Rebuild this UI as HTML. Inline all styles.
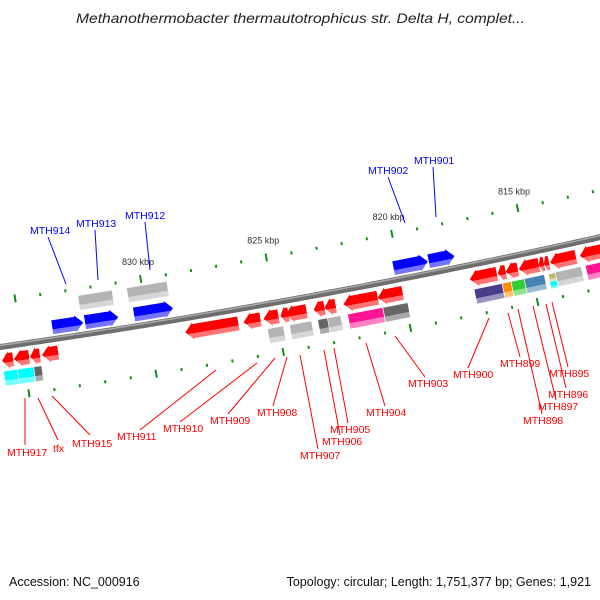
<!DOCTYPE html>
<html><head><meta charset="utf-8">
<style>
html,body{margin:0;padding:0;background:#fff;}
svg{display:block;font-family:"Liberation Sans","DejaVu Sans",sans-serif;}
</style></head>
<body>
<svg id="map" width="600" height="600" viewBox="0 0 600 600" xmlns="http://www.w3.org/2000/svg">
<defs id="defs"></defs>
<text x="76" y="23" font-size="14" font-style="italic" fill="#222" textLength="449" lengthAdjust="spacingAndGlyphs">Methanothermobacter thermautotrophicus str. Delta H, complet...</text>
<text x="9" y="586" font-size="12.5" fill="#111">Accession: NC_000916</text>
<text x="591" y="586" text-anchor="end" font-size="12.5" fill="#111">Topology: circular; Length: 1,751,377 bp; Genes: 1,921</text>
<g id="ticks"></g>
<g id="backbone"></g>
<g id="genes"></g>
<g id="labels"></g>
</svg>
<script>
// ---- data ----
const geneStart = [833.72,832.42,830.48,820.19,818.80, 832.54,830.60,
 835.86,835.39,834.75,834.28,828.62,826.32,825.53,824.86,824.66,823.55,823.12,822.37,821.02,817.38,816.27,815.96,815.44,814.65,814.45,814.21,813.03,
 835.86,835.31,834.67,825.45,824.58,823.47,823.08,822.29,820.90,817.30,816.19,815.84,815.32,814.37,814.10,812.91];
const geneEnd = [832.50,831.11,828.94,818.84,817.78, 831.19,829.01,
 835.42,834.79,834.36,833.64,826.52,825.65,824.94,824.54,823.83,823.12,822.68,821.02,820.03,816.31,815.96,815.48,814.65,814.45,814.25,813.19,812.12,
 835.31,834.67,834.36,824.82,823.71,823.08,822.56,820.90,819.91,816.19,815.84,815.32,814.53,814.10,813.07,812.00];
const geneLane = [-1,-1,-1,-1,-1, -2,-2,
 1,1,1,1,1,1,1,1,1,1,1,1,1,1,1,1,1,1,1,1,1,
 2,2,2,2,2,2,2,2,2,2,2,2,2,2,2,2];
const geneColor = ['#0000ff','#0000ff','#0000ff','#0000ff','#0000ff','#b4b4b4','#b4b4b4',
 '#ff0000','#ff0000','#ff0000','#ff0000','#ff0000','#ff0000','#ff0000','#ff0000','#ff0000','#ff0000','#ff0000','#ff0000','#ff0000','#ff0000','#ff0000','#ff0000','#ff0000','#ff0000','#ff0000','#ff0000','#ff0000',
 '#00ffff','#00ffff','#666666','#b4b4b4','#b4b4b4','#666666','#b4b4b4','#ff1493','#666666','#483d8b','#ff8c00','#32cd32','#4682b4','#bdb76b','#b4b4b4','#ff1493'];
const tickMin = 812, tickMax = 835;
const majorTicks = [815,820,825,830,835];
const majorTickLabels = ['815 kbp','820 kbp','825 kbp','830 kbp',''];

// ---- geometry ----
function kx(k){ return (835.86 - k) * 25.27; }
function Y(x){ return 347 - 0.143*x - 6.67e-5*x*x; }
function dY(x){ return -0.143 - 1.334e-4*x; }
function pt(x,d){ const s=dY(x), n=Math.sqrt(1+s*s); return [x + d*(-s)/n, Y(x) + d*1/n]; }
const laneOffset = {'-1':-12,'-2':-32,'1':14,'2':32};
const NS='http://www.w3.org/2000/svg';
function mk(tag, attrs, parent){ const e=document.createElementNS(NS,tag); for(const k in attrs) e.setAttribute(k,attrs[k]); parent.appendChild(e); return e; }
function lighten(hex){ const v=parseInt(hex.slice(1),16); let r=v>>16,g=(v>>8)&255,b=v&255;
 r=Math.round(r+(255-r)*0.45); g=Math.round(g+(255-g)*0.45); b=Math.round(b+(255-b)*0.45);
 return 'rgb('+r+','+g+','+b+')'; }

// backbone
const bb=document.getElementById('backbone');
let dpath='', dpath2='';
for(let x=-5;x<=605;x+=5){ const p=pt(x,0), q=pt(x,-1.5); dpath+=(x===-5?'M':'L')+p[0].toFixed(1)+' '+p[1].toFixed(1)+' '; dpath2+=(x===-5?'M':'L')+q[0].toFixed(1)+' '+q[1].toFixed(1)+' '; }
const bbl = mk('path',{d:dpath,stroke:'#6e6e6e','stroke-width':6,fill:'none'},bb);


const bbh = mk('path',{d:dpath2,stroke:'#a8a8a8','stroke-width':1.5,fill:'none'},bb);



// ticks
const tg=document.getElementById('ticks');
for(let k=tickMin;k<=tickMax;k++){
 const major = majorTicks.indexOf(k);
 const len = major>=0 ? 8 : 3;
 [-46,50].forEach(function(off){
  const x=kx(k), a=pt(x,off-len/2), b=pt(x,off+len/2);
  const t = mk('line',{x1:a[0],y1:a[1],x2:b[0],y2:b[1],stroke:'#1a8a1a','stroke-width':2},tg);
  
  
 });
 if(major>=0 && majorTickLabels[major]){
  const p=pt(kx(k),-63);
  const lt = mk('text',{x:p[0],y:p[1]+3,'text-anchor':'middle','font-size':9,fill:'#333'},tg);
  lt.textContent=majorTickLabels[major];
  
  
 }
}

// genes
const defs=document.getElementById('defs');
const gradIds={};
function grad(c){ if(gradIds[c]) return gradIds[c]; const id='g'+Object.keys(gradIds).length;
 const lg=mk('linearGradient',{id:id,x1:0,y1:0,x2:0,y2:1},defs);
 mk('stop',{offset:'0',  'stop-color':c},lg); mk('stop',{offset:'0.62','stop-color':c},lg);
 mk('stop',{offset:'0.63','stop-color':lighten(c)},lg); mk('stop',{offset:'1','stop-color':lighten(c)},lg);
 gradIds[c]=id; return id; }
const gg=document.getElementById('genes');
for(let i=0;i<geneStart.length;i++){
 const x1=kx(geneStart[i]), x2=kx(geneEnd[i]);
 const lane=geneLane[i], off=laneOffset[lane];
 const xm=(x1+x2)/2, s=dY(xm), ang=Math.atan(s)*180/Math.PI;
 const L=Math.abs(x2-x1)*Math.sqrt(1+s*s);
 const c=pt(xm,off);
 const isKhaki = geneColor[i]==='#bdb76b';
 const isArrow = (lane===1 || lane===-1);
 const h = isKhaki ? 8 : (isArrow ? 17 : 15);
 const cy = isKhaki ? -3 : 0;
 const top=cy-h/2, bot=cy+h/2, hl=-L/2, hr=L/2;
 let pts;
 const head=Math.min(8,L*0.6);
 if(!isArrow){ pts=[[hl,top],[hr,top],[hr,bot],[hl,bot]]; }
 else if(lane===-1){ pts=[[hl,top+1.5],[hr-head,top+1.5],[hr-head,top],[hr,cy],[hr-head,bot],[hr-head,bot-1.5],[hl,bot-1.5]]; }
 else { pts=[[hr,top+1.5],[hl+head,top+1.5],[hl+head,top],[hl,cy],[hl+head,bot],[hl+head,bot-1.5],[hr,bot-1.5]]; }
 const poly=mk('polygon',{points:pts.map(p=>p[0].toFixed(1)+','+p[1].toFixed(1)).join(' '),
  fill:'url(#'+grad(geneColor[i])+')',
  transform:'translate('+c[0].toFixed(1)+','+c[1].toFixed(1)+') rotate('+ang.toFixed(2)+')'},gg);
 if(geneColor[i]!=='#ff0000' && geneColor[i]!=='#0000ff'){ poly.setAttribute('stroke','#fff'); poly.setAttribute('stroke-width','0.6'); }
 
 
 if(isKhaki){
  const p2=mk('rect',{x:hl,y:1,width:L,height:7,fill:'url(#'+grad('#00ffff')+')',
   transform:'translate('+c[0].toFixed(1)+','+c[1].toFixed(1)+') rotate('+ang.toFixed(2)+')'},gg);
  
  
 }
}

// labels: [text, textX, textY, lineX1, lineY1, lineX2, lineY2, color]
const labels=[
 ['MTH914',30,234,48,237,66,284,'#0000ff'],
 ['MTH913',76,227,95,230,98,280,'#0000ff'],
 ['MTH912',125,219,145,222,150,270,'#0000ff'],
 ['MTH902',368,174,388,177,405,223,'#0000ff'],
 ['MTH901',414,164,433,167,436,217,'#0000ff'],
 ['MTH917',7,456,25,398,25,445,'#ff0000'],
 ['tfx',53,452,38,398,58,440,'#ff0000'],
 ['MTH915',72,447,52,396,90,435,'#ff0000'],
 ['MTH911',117,440,216,370,140,430,'#ff0000'],
 ['MTH910',163,432,257,363,180,422,'#ff0000'],
 ['MTH909',210,424,275,358,228,414,'#ff0000'],
 ['MTH908',257,416,287,357,273,406,'#ff0000'],
 ['MTH907',300,459,300,355,318,449,'#ff0000'],
 ['MTH906',322,445,324,350,340,435,'#ff0000'],
 ['MTH905',330,433,334,348,348,423,'#ff0000'],
 ['MTH904',366,416,366,343,385,406,'#ff0000'],
 ['MTH903',408,387,395,336,425,377,'#ff0000'],
 ['MTH900',453,378,489,318,468,368,'#ff0000'],
 ['MTH899',500,367,508,313,520,357,'#ff0000'],
 ['MTH898',523,424,518,309,542,414,'#ff0000'],
 ['MTH897',538,410,533,306,556,400,'#ff0000'],
 ['MTH896',548,398,546,304,566,388,'#ff0000'],
 ['MTH895',549,377,552,302,568,367,'#ff0000']
];
const lg2=document.getElementById('labels');
labels.forEach(function(l){
 const ln=mk('line',{x1:l[3],y1:l[4],x2:l[5],y2:l[6],stroke:l[7],'stroke-width':1},lg2);
 
 
 const t=mk('text',{x:l[1],y:l[2],'font-size':10.5,fill:l[7]},lg2);
 t.textContent=l[0];
 
 
});
</script>
</body></html>
